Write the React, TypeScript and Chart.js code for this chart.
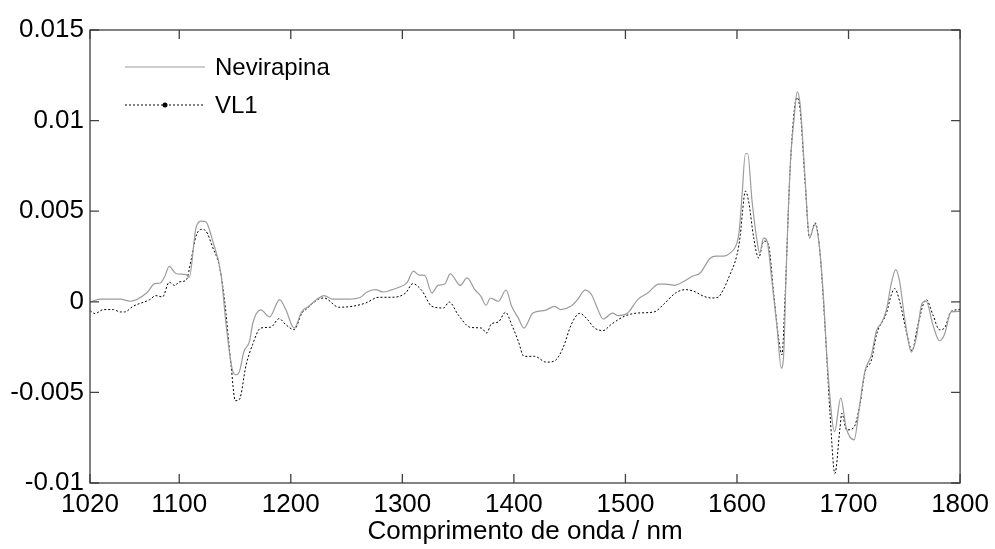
import React, { useEffect, useRef } from "react";
import { Chart, registerables } from "chart.js";

Chart.register(...registerables);

const FONT = "'Liberation Sans', Arial, sans-serif";

const xTicks = [1020, 1100, 1200, 1300, 1400, 1500, 1600, 1700, 1800];
const yTicks = [-0.01, -0.005, 0, 0.005, 0.01, 0.015];
const xTitle = "Comprimento de onda / nm";
const seriesNames = ["Nevirapina", "VL1"];

const nevWavelength = [
  1020, 1029, 1047, 1056, 1071, 1078, 1083, 1087, 1091, 1097, 1106, 1109, 1115, 1120, 1124, 1130,
  1137.5, 1142, 1148, 1151, 1154, 1158, 1163, 1166, 1173, 1181, 1190, 1195.5, 1203, 1210, 1216,
  1225, 1230, 1237, 1252, 1262.5, 1268, 1276, 1283, 1291, 1297, 1304, 1310, 1315, 1320, 1326.5,
  1332, 1338, 1343, 1352, 1358, 1365, 1370.5, 1375, 1379, 1386, 1393, 1398, 1404, 1409, 1417,
  1428, 1436.5, 1442, 1451, 1457, 1464, 1470, 1475, 1480, 1488.5, 1493, 1502, 1511, 1520, 1530,
  1536, 1544, 1552.5, 1560, 1567, 1576, 1581, 1588, 1594, 1600, 1602, 1604.6, 1607.5, 1609.6,
  1613.5, 1618, 1620.3, 1624, 1627, 1631, 1636, 1639.7, 1642, 1644, 1648, 1651, 1654, 1656.6,
  1661, 1665, 1670, 1674, 1677.4, 1681, 1687.5, 1693, 1698, 1705, 1710, 1714.6, 1720.6, 1725,
  1729.5, 1734, 1738.4, 1742.3, 1745.8, 1750.3, 1756.3, 1760.7, 1766, 1769.6, 1775.6, 1781.5,
  1786, 1792, 1800,
];
const nevValues = [
  0.0, 0.00015, 0.00015, 0.00003, 0.0005, 0.001, 0.00104, 0.0014, 0.00196, 0.00156, 0.0015,
  0.00135, 0.00408, 0.00445, 0.0044, 0.00335, 0.0015, -0.00126, -0.00384, -0.00403, -0.00384,
  -0.00274, -0.00218, -0.00117, -0.00045, -0.00084, 0.00012, -0.00043, -0.00145, -0.00053,
  -0.00025, 0.00021, 0.00034, 0.00015, 0.00015, 0.00025, 0.00053, 0.00067, 0.00054, 0.00067,
  0.0008, 0.00104, 0.00169, 0.00147, 0.00146, 0.00049, 0.00091, 0.00098, 0.00154, 0.00091,
  0.00132, 0.00067, 0.0003, -0.00019, 0.00021, 0.00003, 0.00065, -0.00025, -0.0009, -0.00145,
  -0.00062, -0.00047, -0.00025, -0.00043, -0.00025, 0.00012, 0.00064, 0.00035, -0.00038,
  -0.00095, -0.00062, -0.00076, -0.00062, 0.00012, 0.00049, 0.00098, 0.00098, 0.00091, 0.00113,
  0.00141, 0.00159, 0.0024, 0.00252, 0.00252, 0.0027, 0.00325, 0.0039, 0.00593, 0.00817, 0.00817,
  0.00556, 0.00335, 0.0027, 0.00353, 0.00335, 0.00132, -0.00145, -0.00366, -0.00274, 0.0015,
  0.00777, 0.00998, 0.01159, 0.01091, 0.00685, 0.00353, 0.00427, 0.00298, 0.0004, -0.0034,
  -0.00716, -0.00532, -0.00698, -0.00762, -0.00569, -0.00384, -0.00292, -0.00159, -0.00117,
  -0.00043, 0.00104, 0.00178, 0.00113, -0.0009, -0.00278, -0.002, -0.00007, 0.00003, -0.00126,
  -0.00215, -0.00181, -0.00056, -0.00053,
];

const vl1Wavelength = [
  1020, 1024.5, 1032, 1041, 1047, 1051, 1058.6, 1073.5, 1079, 1085, 1091, 1096, 1100, 1106, 1111,
  1115, 1120, 1124, 1130, 1136, 1140.4, 1146.4, 1150.3, 1153.8, 1160, 1165.7, 1173, 1182, 1189.6,
  1195.5, 1203, 1210, 1213.4, 1225, 1230, 1243, 1255, 1267, 1279, 1291, 1303, 1309.4, 1317.5,
  1326.5, 1337, 1342, 1350, 1361, 1371, 1375.5, 1380, 1386, 1392.5, 1398, 1404, 1409, 1418.6,
  1429, 1436.5, 1444, 1451.4, 1459, 1466, 1472, 1480, 1487, 1499, 1511, 1525.7, 1534.6, 1545,
  1554, 1561.4, 1570.4, 1577, 1583, 1588, 1593, 1600, 1603, 1605, 1607.5, 1610.4, 1615, 1619.4,
  1624, 1628, 1633, 1637.3, 1640.3, 1643.2, 1647.7, 1653.7, 1656.7, 1661.2, 1665, 1670, 1674,
  1679, 1683.3, 1687.8, 1692.3, 1694, 1698.3, 1704.2, 1710.2, 1714.6, 1720.6, 1725.1, 1734,
  1738.4, 1741.4, 1745.8, 1751.8, 1756.9, 1762.2, 1769.6, 1775.6, 1781.5, 1786, 1792, 1800,
];
const vl1Values = [
  -0.00049, -0.00065, -0.00043, -0.00043, -0.00056, -0.00056, -0.00025, 0.00012, 0.00034,
  0.00027, 0.00108, 0.0009, 0.0011, 0.00118, 0.00242, 0.00362, 0.004, 0.0039, 0.003, 0.00196,
  0.0002, -0.00347, -0.00546, -0.0054, -0.00347, -0.00237, -0.00145, -0.0014, -0.00093,
  -0.00126, -0.00154, -0.00062, -0.00043, 0.00015, 0.00021, -0.0003, -0.00025, -0.00007,
  0.00025, 0.00025, 0.00049, 0.001, 0.00062, -0.00025, -0.00034, -0.00001, -0.00071, -0.00141,
  -0.00145, -0.00172, -0.00121, -0.00112, -0.00058, -0.00126, -0.00218, -0.00301, -0.00301,
  -0.00333, -0.00326, -0.00255, -0.00126, -0.00064, -0.00098, -0.00143, -0.00159, -0.00126,
  -0.0008, -0.00062, -0.00056, -0.00012, 0.00049, 0.00067, 0.00058, 0.0003, 0.00021, 0.00025,
  0.0007, 0.0014, 0.0026, 0.0037, 0.005, 0.00611, 0.00556, 0.00353, 0.00242, 0.00335, 0.0032,
  0.0004, -0.002, -0.00292, 0.0004, 0.0074, 0.01127, 0.01054, 0.00648, 0.00353, 0.00436, 0.00298,
  -0.00145, -0.00606, -0.00947, -0.00698, -0.00615, -0.00707, -0.00698, -0.00569, -0.00393,
  -0.0032, -0.00181, -0.00062, 0.0004, 0.00073, 0.00003, -0.00163, -0.0027, -0.00126, 0.00012,
  -0.00071, -0.00154, -0.00145, -0.00053, -0.00043,
];

const NEV_COLOR = "#9c9c9c";
const VL1_COLOR = "#000000";
const FRAME_COLOR = "#404040";

function fmtY(v: number): string {
  const r = Math.round(v * 1000) / 1000;
  return r === 0 ? "0" : String(r);
}

const framePlugin = {
  id: "frameTicks",
  afterDatasetsDraw(chart: any) {
    const { ctx, chartArea: a, scales } = chart;
    ctx.save();
    ctx.strokeStyle = FRAME_COLOR;
    ctx.lineWidth = 1.3;
    ctx.setLineDash([]);
    ctx.strokeRect(a.left, a.top, a.right - a.left, a.bottom - a.top);
    const L = 9;
    ctx.beginPath();
    for (const v of xTicks) {
      const x = scales.x.getPixelForValue(v);
      ctx.moveTo(x, a.bottom);
      ctx.lineTo(x, a.bottom - L);
      ctx.moveTo(x, a.top);
      ctx.lineTo(x, a.top + L);
    }
    for (const v of yTicks) {
      const y = scales.y.getPixelForValue(v);
      ctx.moveTo(a.left, y);
      ctx.lineTo(a.left + L, y);
      ctx.moveTo(a.right, y);
      ctx.lineTo(a.right - L, y);
    }
    ctx.stroke();

    // legend
    const lx0 = a.left + 35;
    const lx1 = a.left + 115;
    const ty = a.top + 37;
    const ty2 = a.top + 75;
    ctx.font = `24px ${FONT}`;
    ctx.textBaseline = "middle";
    ctx.textAlign = "left";
    ctx.fillStyle = "#000";
    ctx.strokeStyle = NEV_COLOR;
    ctx.lineWidth = 1.2;
    ctx.beginPath();
    ctx.moveTo(lx0, ty);
    ctx.lineTo(lx1, ty);
    ctx.stroke();
    ctx.fillText(seriesNames[0], lx1 + 10, ty + 1);

    ctx.strokeStyle = VL1_COLOR;
    ctx.lineWidth = 1;
    ctx.setLineDash([2, 2]);
    ctx.beginPath();
    ctx.moveTo(lx0, ty2);
    ctx.lineTo(lx1, ty2);
    ctx.stroke();
    ctx.setLineDash([]);
    ctx.beginPath();
    ctx.arc((lx0 + lx1) / 2, ty2, 2.5, 0, Math.PI * 2);
    ctx.fill();
    ctx.fillText(seriesNames[1], lx1 + 10, ty2 + 1);
    ctx.restore();
  },
};

export default function App() {
  const ref = useRef<HTMLCanvasElement | null>(null);

  useEffect(() => {
    if (!ref.current) return;
    const nevData = nevWavelength.map((x, i) => ({ x, y: nevValues[i] }));
    const vl1Data = vl1Wavelength.map((x, i) => ({ x, y: vl1Values[i] }));
    const tickFont = { family: FONT, size: 26 };
    const chart = new Chart(ref.current, {
      type: "scatter",
      data: {
        datasets: [
          {
            label: seriesNames[0],
            data: nevData,
            showLine: true,
            borderColor: NEV_COLOR,
            backgroundColor: NEV_COLOR,
            borderWidth: 1.2,
            pointRadius: 0,
            cubicInterpolationMode: "monotone",
          },
          {
            label: seriesNames[1],
            data: vl1Data,
            showLine: true,
            borderColor: VL1_COLOR,
            backgroundColor: VL1_COLOR,
            borderWidth: 1,
            borderDash: [2, 2],
            pointRadius: 0,
            cubicInterpolationMode: "monotone",
          },
        ],
      },
      options: {
        animation: false,
        responsive: false,
        devicePixelRatio: 1,
        layout: { padding: { top: 30, right: 31, left: 0, bottom: 0 } },
        plugins: { legend: { display: false }, tooltip: { enabled: false } },
        scales: {
          x: {
            type: "linear",
            min: 1020,
            max: 1800,
            afterBuildTicks: (s: any) => {
              s.ticks = xTicks.map((v) => ({ value: v }));
            },
            afterFit: (s: any) => {
              s.height = 66;
            },
            grid: { display: false, drawTicks: false },
            border: { display: false },
            ticks: {
              autoSkip: false,
              maxRotation: 0,
              padding: 6,
              color: "#000",
              font: tickFont,
              callback: (v: any) => String(v),
            },
            title: {
              display: true,
              text: xTitle,
              color: "#000",
              font: tickFont,
              padding: { top: 0, bottom: 1.5 },
            },
          },
          y: {
            type: "linear",
            min: -0.01,
            max: 0.015,
            afterBuildTicks: (s: any) => {
              s.ticks = yTicks.map((v) => ({ value: v }));
            },
            afterFit: (s: any) => {
              s.width = 90;
            },
            grid: { display: false, drawTicks: false },
            border: { display: false },
            ticks: {
              autoSkip: false,
              padding: 6,
              color: "#000",
              font: tickFont,
              callback: (v: any) => fmtY(Number(v)),
            },
          },
        },
      },
      plugins: [framePlugin],
    } as any);
    return () => chart.destroy();
  }, []);

  return (
    <div
      style={{
        position: "fixed",
        left: 0,
        top: 0,
        width: 995,
        height: 549,
        background: "#fff",
      }}
    >
      <canvas ref={ref} width={995} height={549} style={{ width: 995, height: 549, display: "block" }} />
    </div>
  );
}
